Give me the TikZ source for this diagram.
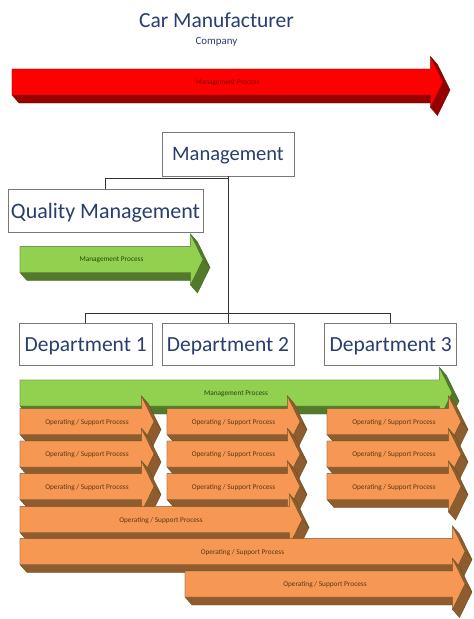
\documentclass[tikz,border=0pt]{standalone}
\usepackage{fontspec}
\setmainfont{Carlito}
\usetikzlibrary{positioning,calc}

\definecolor{titleblue}{RGB}{40,62,110}
\definecolor{boxline}{RGB}{120,120,120}
\definecolor{redfront}{RGB}{255,0,0}
\definecolor{redside}{RGB}{150,0,0}
\definecolor{rededge}{RGB}{110,20,20}
\definecolor{redtext}{RGB}{120,10,10}
\definecolor{greenfront}{RGB}{146,208,80}
\definecolor{greenside}{RGB}{82,122,42}
\definecolor{greenedge}{RGB}{70,100,40}
\definecolor{greentext}{RGB}{40,70,20}
\definecolor{orangefront}{RGB}{246,152,84}
\definecolor{orangeside}{RGB}{142,92,46}
\definecolor{orangeedge}{RGB}{100,80,35}
\definecolor{orangetext}{RGB}{90,55,20}

% 3D process arrow: name, left x, tip x, centre y, colour kind, text
\newcommand{\procarrow}[6]{%
  \filldraw[fill=#5side, draw=#5edge, line width=0.4pt]
    (#2,#4+13) -- (#3-12.5,#4+13) -- (#3-12.5,#4+25.5) -- (#3-5.5,#4+17.5)
    -- (#3+7,#4-8) -- (#3-5.5,#4-33.5) -- (#3-12.5,#4-25.5) -- (#3-12.5,#4-21)
    -- (#2+7,#4-21) -- (#2,#4-13) -- cycle;
  \draw[#5edge, line width=0.4pt] (#3,#4) -- (#3+7,#4-8);
  \filldraw[fill=#5front, draw=#5edge, line width=0.4pt]
    (#2,#4+13) -- (#3-12.5,#4+13) -- (#3-12.5,#4+25.5) -- (#3,#4)
    -- (#3-12.5,#4-25.5) -- (#3-12.5,#4-13) -- (#2,#4-13) -- cycle;
  \node[proctext, text=#5text] (#1) at ({(#2+#3)/2},#4) {#6};
}

\begin{document}
\begin{tikzpicture}[x=1pt, y=1pt,
    box/.style={rectangle, draw=boxline, line width=0.8pt, fill=white, text=titleblue,
      inner sep=0pt, text depth=0pt, minimum height=42pt},
    proctext/.style={font=\fontsize{7.3}{8}\selectfont, inner sep=0pt, text depth=0pt},
    link/.style={draw=black!80, line width=0.8pt}]

    \useasboundingbox (0,0) rectangle (474,-619);

    % Title
    \node [text=titleblue, font=\fontsize{21.5}{24}\selectfont] (title) at (216.5,-20) {Car Manufacturer};
    \node [text=titleblue, font=\fontsize{10.9}{12}\selectfont, below=3pt of title] (company) {Company};

    % Company wide process
    \procarrow{companyproc}{12}{443}{-82}{red}{Management Process}

    % Organisation boxes
    \node [box, minimum width=132pt, minimum height=44pt, font=\fontsize{20.5}{24}\selectfont] (mgmt) at (228,-154) {Management};
    \node [box, minimum width=195pt, minimum height=43pt, font=\fontsize{22}{24}\selectfont] (quality) at (105.5,-210.5) {Quality Management};
    \node [box, minimum width=132pt, font=\fontsize{21.5}{24}\selectfont, below=147pt of mgmt] (dept2) {Department 2};
    \node [box, minimum width=133pt, font=\fontsize{21.5}{24}\selectfont, left=9pt of dept2] (dept1) {Department 1};
    \node [box, minimum width=132pt, font=\fontsize{21.5}{24}\selectfont, right=30pt of dept2] (dept3) {Department 3};

    % Connections
    \coordinate (qmjoin) at ($(mgmt.south)+(0,-2)$);
    \coordinate (bus) at ($(dept2.north)+(0,10.3)$);
    \draw [link] (mgmt.south) -- (dept2.north);
    \draw [link] (quality.north) |- (qmjoin);
    \draw [link] (dept1.north) |- (bus) -| (dept3.north);

    % Quality process
    \procarrow{qualityproc}{20}{203}{-259.5}{green}{Management Process}

    % Department processes
    \procarrow{deptproc}{20}{452}{-393}{green}{Management Process}
    \procarrow{opa1}{20}{154}{-421.5}{orange}{Operating / Support Process}
    \procarrow{opb1}{167}{300}{-421.5}{orange}{Operating / Support Process}
    \procarrow{opc1}{327}{461}{-421.5}{orange}{Operating / Support Process}
    \procarrow{opa2}{20}{154}{-454}{orange}{Operating / Support Process}
    \procarrow{opb2}{167}{300}{-454}{orange}{Operating / Support Process}
    \procarrow{opc2}{327}{461}{-454}{orange}{Operating / Support Process}
    \procarrow{opa3}{20}{154}{-486.5}{orange}{Operating / Support Process}
    \procarrow{opb3}{167}{300}{-486.5}{orange}{Operating / Support Process}
    \procarrow{opc3}{327}{461}{-486.5}{orange}{Operating / Support Process}

    % Cross department processes
    \procarrow{opab}{20}{302}{-519.5}{orange}{Operating / Support Process}
    \procarrow{opabc}{20}{465}{-551.5}{orange}{Operating / Support Process}
    \procarrow{opbc}{185}{465}{-584}{orange}{Operating / Support Process}

\end{tikzpicture}
\end{document}
